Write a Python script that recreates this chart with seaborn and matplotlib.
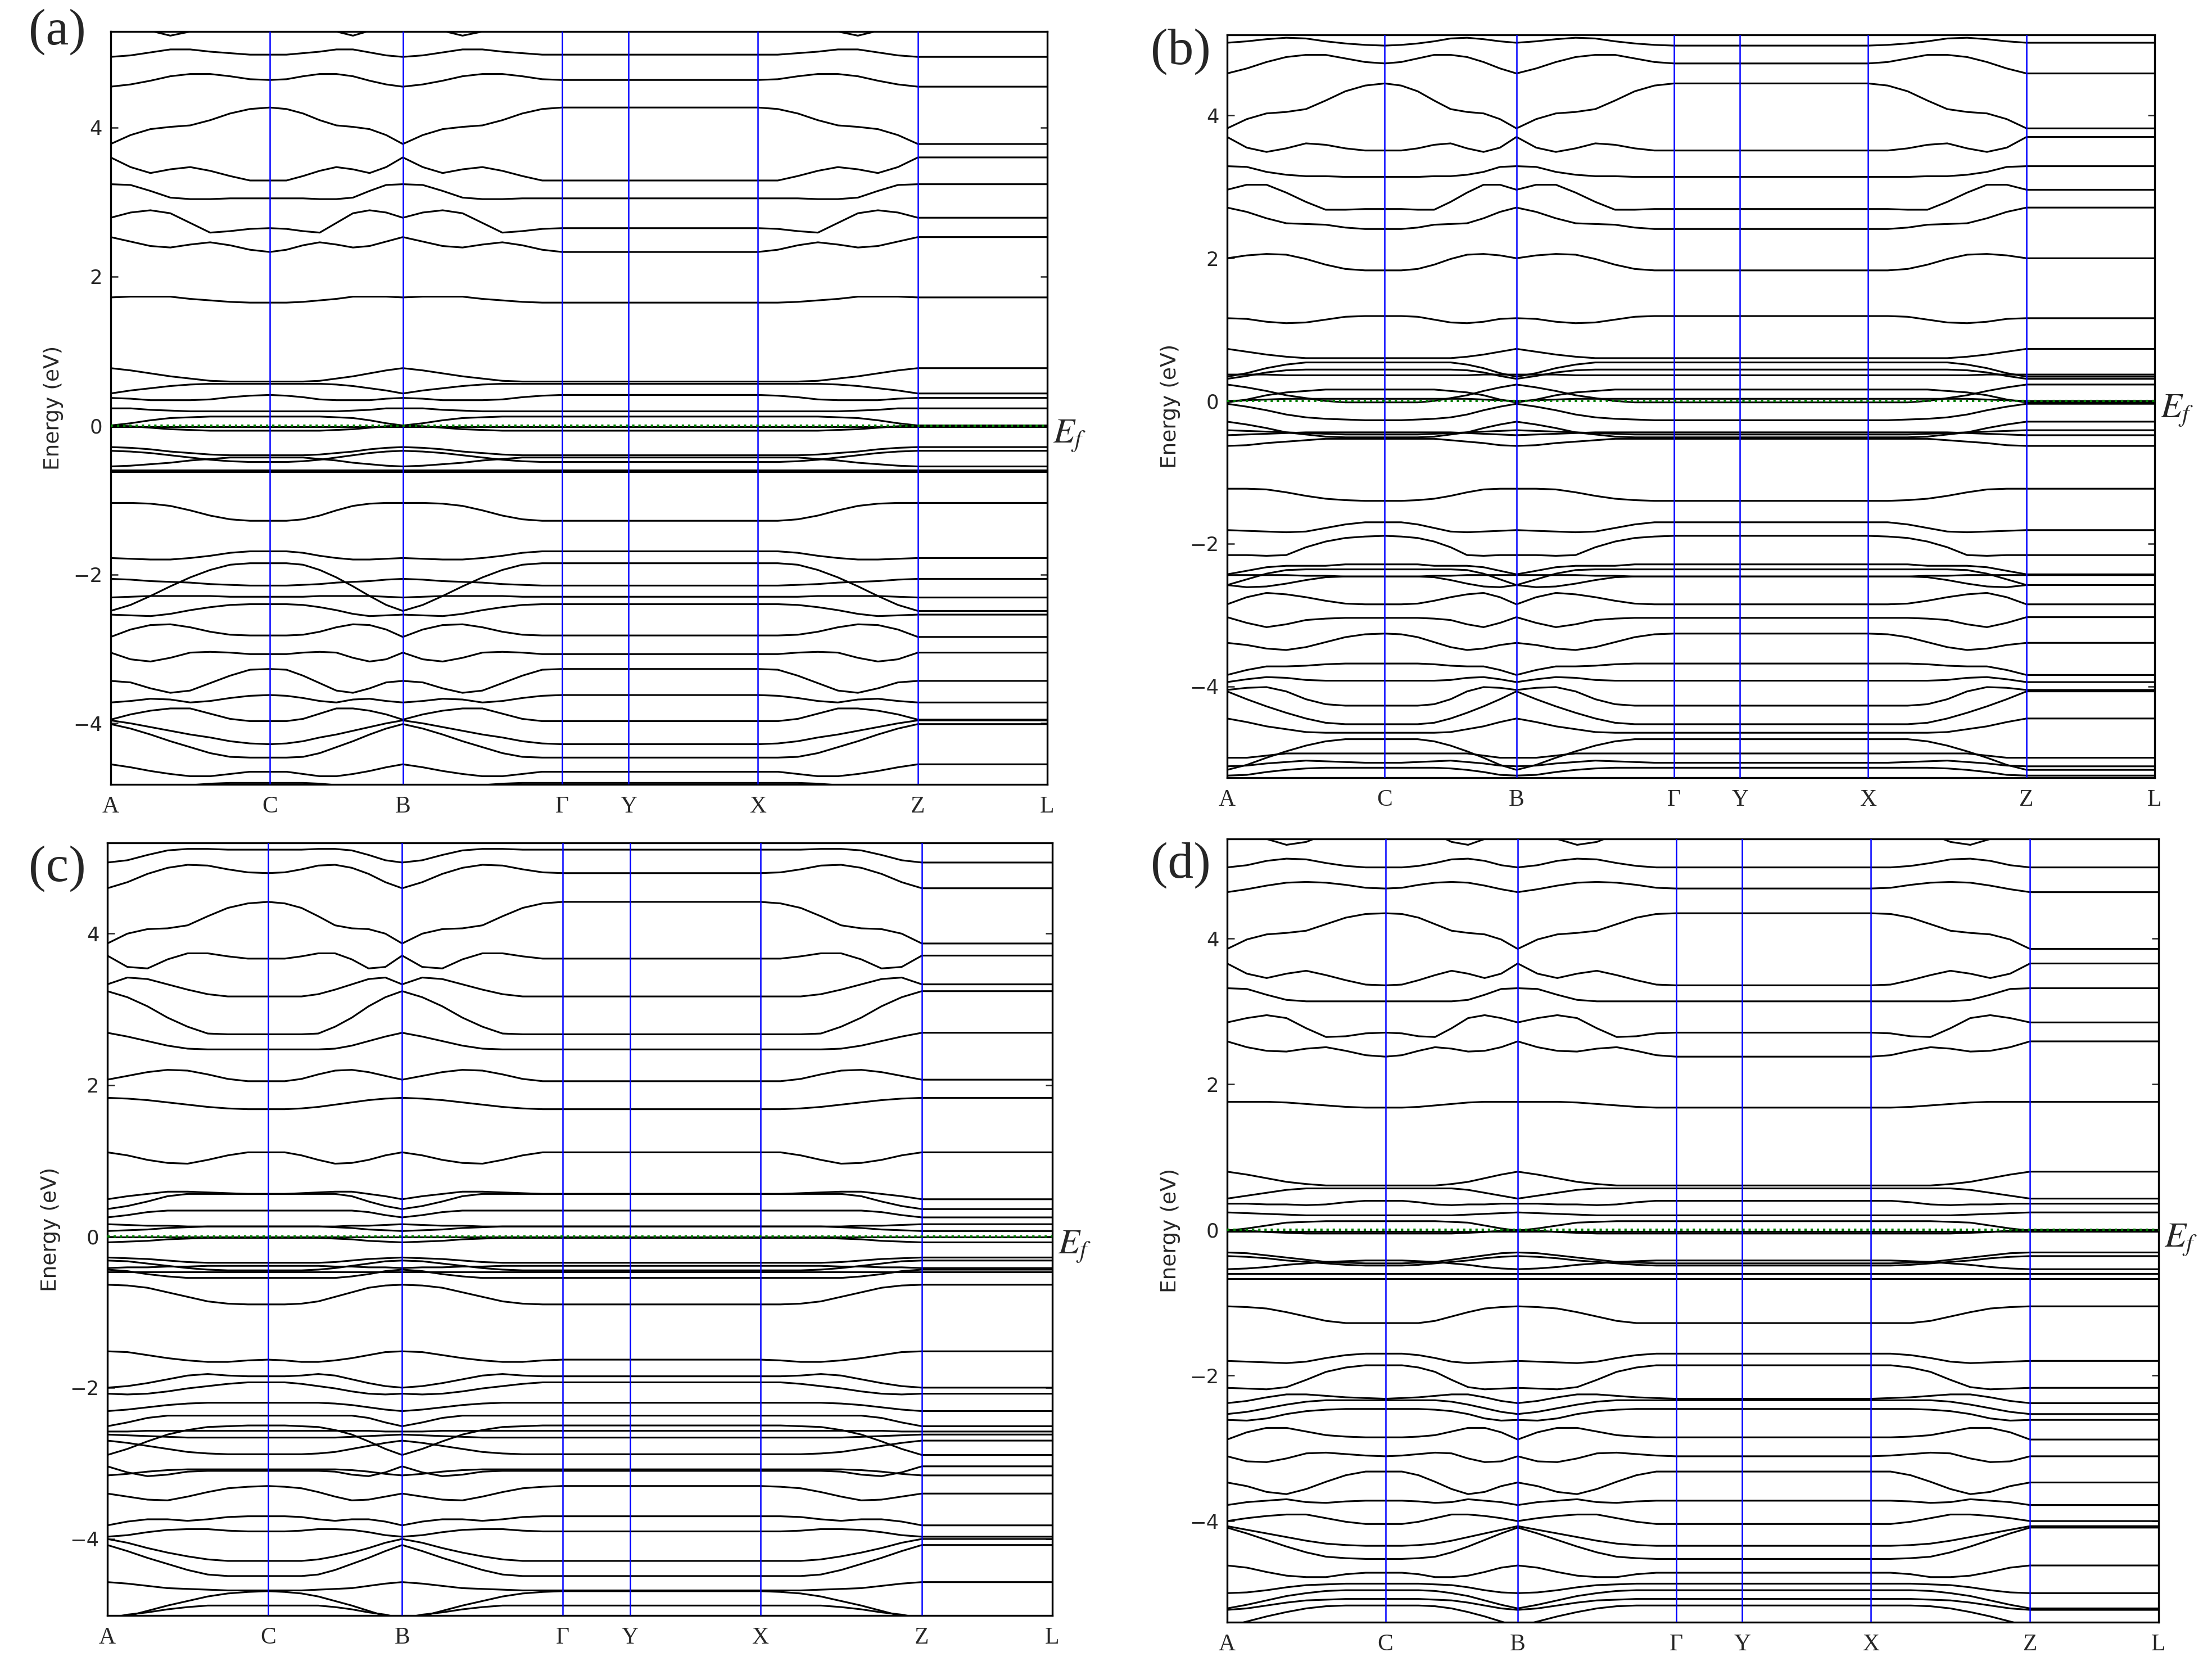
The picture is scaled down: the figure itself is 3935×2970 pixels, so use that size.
import numpy as np
import pandas as pd
import matplotlib.pyplot as plt
import seaborn as sns

# ---------------------------------------------------------------
# k-path (fractional distance along the path) and its labels
# ---------------------------------------------------------------
KLABELS = ['A', 'C', 'B', 'Γ', 'Y', 'X', 'Z', 'L']
KTICKS = [0.0, 0.170, 0.312, 0.482, 0.553, 0.691, 0.862, 1.0]
# branch sample positions: 0 = corner point (A/B/Z), 1 = centre point (C/Γ/X)
TGRID = [0.0, 0.125, 0.25, 0.375, 0.5, 0.625, 0.75, 0.875, 1.0]
YTICKS = [-4, -2, 0, 2, 4]

# band energies (eV) read along one branch, corner -> centre
BANDS_A = [
    [5.50, 5.42, 5.30, 5.235, 5.29, 5.40, 5.48, 5.52, 5.52],
    [4.95, 4.97, 5.01, 5.05, 5.05, 5.02, 5.00, 4.98, 4.98],
    [4.55, 4.58, 4.63, 4.69, 4.72, 4.72, 4.69, 4.65, 4.64],
    [3.78, 3.90, 3.98, 4.01, 4.03, 4.10, 4.19, 4.25, 4.27],
    [3.60, 3.47, 3.39, 3.44, 3.47, 3.42, 3.35, 3.29, 3.29],
    [3.24, 3.23, 3.15, 3.06, 3.04, 3.04, 3.05, 3.05, 3.05],
    [2.79, 2.86, 2.89, 2.85, 2.72, 2.59, 2.61, 2.64, 2.65],
    [2.53, 2.47, 2.41, 2.39, 2.43, 2.46, 2.42, 2.36, 2.33],
    [1.72, 1.73, 1.73, 1.73, 1.70, 1.68, 1.66, 1.65, 1.65],
    [0.77, 0.74, 0.70, 0.66, 0.63, 0.60, 0.59, 0.59, 0.59],
    [0.43, 0.47, 0.50, 0.53, 0.55, 0.56, 0.56, 0.56, 0.56],
    [0.37, 0.36, 0.34, 0.34, 0.34, 0.35, 0.38, 0.40, 0.41],
    [0.23, 0.23, 0.21, 0.20, 0.19, 0.19, 0.19, 0.19, 0.19],
    [0.00, 0.03, 0.07, 0.10, 0.11, 0.12, 0.12, 0.12, 0.12],
    [-0.02, -0.02, -0.02, -0.02, -0.02, -0.02, -0.02, -0.02, -0.02],
    [0.00, -0.01, -0.03, -0.05, -0.06, -0.07, -0.07, -0.07, -0.07],
    [-0.29, -0.30, -0.32, -0.35, -0.37, -0.39, -0.40, -0.40, -0.40],
    [-0.34, -0.35, -0.37, -0.40, -0.43, -0.46, -0.48, -0.49, -0.49],
    [-0.55, -0.54, -0.52, -0.50, -0.47, -0.45, -0.43, -0.43, -0.43],
    [-0.60, -0.60, -0.60, -0.60, -0.60, -0.60, -0.60, -0.60, -0.60],
    [-0.62, -0.62, -0.62, -0.62, -0.62, -0.62, -0.62, -0.62, -0.62],
    [-1.04, -1.04, -1.05, -1.08, -1.14, -1.21, -1.26, -1.28, -1.28],
    [-1.78, -1.79, -1.80, -1.80, -1.78, -1.75, -1.71, -1.69, -1.69],
    [-2.49, -2.41, -2.29, -2.16, -2.04, -1.94, -1.87, -1.85, -1.85],
    [-2.06, -2.07, -2.09, -2.10, -2.11, -2.13, -2.14, -2.15, -2.15],
    [-2.31, -2.30, -2.29, -2.29, -2.29, -2.29, -2.30, -2.30, -2.30],
    [-2.54, -2.55, -2.56, -2.53, -2.48, -2.44, -2.41, -2.40, -2.40],
    [-2.84, -2.74, -2.68, -2.67, -2.71, -2.77, -2.81, -2.82, -2.82],
    [-3.05, -3.14, -3.17, -3.12, -3.05, -3.04, -3.05, -3.07, -3.07],
    [-3.43, -3.45, -3.53, -3.59, -3.56, -3.46, -3.36, -3.28, -3.27],
    [-3.72, -3.70, -3.67, -3.68, -3.72, -3.70, -3.66, -3.63, -3.62],
    [-3.95, -3.88, -3.83, -3.80, -3.80, -3.87, -3.94, -3.97, -3.97],
    [-3.96, -4.00, -4.05, -4.10, -4.15, -4.19, -4.24, -4.27, -4.28],
    [-4.01, -4.07, -4.15, -4.24, -4.32, -4.40, -4.45, -4.46, -4.46],
    [-4.55, -4.59, -4.64, -4.68, -4.71, -4.71, -4.68, -4.65, -4.65],
    [-4.95, -4.93, -4.90, -4.86, -4.83, -4.81, -4.80, -4.80, -4.80],
]

BANDS_B = [
    [5.02, 5.04, 5.07, 5.09, 5.08, 5.04, 5.01, 4.99, 4.98],
    [4.59, 4.66, 4.75, 4.82, 4.85, 4.85, 4.80, 4.75, 4.73],
    [3.82, 3.95, 4.03, 4.05, 4.09, 4.21, 4.34, 4.42, 4.45],
    [3.70, 3.55, 3.49, 3.54, 3.61, 3.59, 3.54, 3.51, 3.51],
    [3.29, 3.28, 3.21, 3.17, 3.15, 3.15, 3.14, 3.14, 3.14],
    [2.96, 3.03, 3.03, 2.92, 2.79, 2.68, 2.68, 2.69, 2.69],
    [2.71, 2.65, 2.56, 2.49, 2.48, 2.47, 2.43, 2.41, 2.41],
    [2.00, 2.04, 2.06, 2.05, 1.99, 1.91, 1.85, 1.83, 1.83],
    [1.16, 1.15, 1.11, 1.09, 1.10, 1.14, 1.18, 1.19, 1.19],
    [0.73, 0.69, 0.65, 0.62, 0.60, 0.60, 0.60, 0.60, 0.60],
    [0.34, 0.39, 0.46, 0.51, 0.54, 0.54, 0.54, 0.54, 0.54],
    [0.31, 0.35, 0.40, 0.43, 0.44, 0.44, 0.44, 0.44, 0.44],
    [0.37, 0.37, 0.37, 0.36, 0.36, 0.36, 0.36, 0.36, 0.36],
    [0.23, 0.19, 0.14, 0.08, 0.04, 0.00, -0.02, -0.02, -0.02],
    [-0.02, 0.02, 0.08, 0.12, 0.14, 0.16, 0.16, 0.16, 0.16],
    [-0.04, -0.08, -0.13, -0.19, -0.23, -0.25, -0.26, -0.27, -0.27],
    [0.00, 0.01, 0.02, 0.03, 0.03, 0.03, 0.03, 0.03, 0.03],
    [-0.29, -0.33, -0.38, -0.44, -0.47, -0.50, -0.51, -0.51, -0.51],
    [-0.63, -0.62, -0.59, -0.57, -0.55, -0.53, -0.53, -0.53, -0.53],
    [-0.41, -0.42, -0.43, -0.44, -0.45, -0.46, -0.47, -0.47, -0.47],
    [-0.48, -0.47, -0.46, -0.45, -0.44, -0.44, -0.44, -0.44, -0.44],
    [-1.23, -1.23, -1.24, -1.28, -1.33, -1.37, -1.39, -1.40, -1.40],
    [-1.81, -1.82, -1.83, -1.84, -1.83, -1.78, -1.73, -1.70, -1.70],
    [-2.16, -2.16, -2.17, -2.16, -2.05, -1.97, -1.92, -1.90, -1.89],
    [-2.43, -2.38, -2.33, -2.31, -2.31, -2.31, -2.29, -2.29, -2.29],
    [-2.58, -2.50, -2.42, -2.37, -2.36, -2.36, -2.36, -2.36, -2.36],
    [-2.44, -2.44, -2.44, -2.44, -2.45, -2.45, -2.46, -2.46, -2.46],
    [-2.58, -2.61, -2.60, -2.56, -2.51, -2.47, -2.46, -2.46, -2.46],
    [-2.85, -2.75, -2.69, -2.71, -2.75, -2.80, -2.84, -2.85, -2.85],
    [-3.03, -3.11, -3.17, -3.13, -3.07, -3.05, -3.04, -3.04, -3.04],
    [-3.39, -3.42, -3.47, -3.49, -3.45, -3.38, -3.31, -3.27, -3.26],
    [-3.84, -3.77, -3.72, -3.72, -3.71, -3.69, -3.68, -3.68, -3.68],
    [-3.94, -3.90, -3.87, -3.88, -3.91, -3.92, -3.92, -3.92, -3.92],
    [-4.05, -4.02, -4.01, -4.07, -4.18, -4.25, -4.27, -4.27, -4.27],
    [-4.07, -4.18, -4.28, -4.37, -4.45, -4.51, -4.53, -4.53, -4.53],
    [-4.45, -4.50, -4.56, -4.60, -4.64, -4.65, -4.65, -4.65, -4.65],
    [-5.17, -5.10, -5.00, -4.91, -4.83, -4.77, -4.74, -4.74, -4.74],
    [-5.00, -5.00, -4.97, -4.94, -4.94, -4.94, -4.94, -4.94, -4.94],
    [-5.12, -5.11, -5.08, -5.06, -5.04, -5.05, -5.06, -5.07, -5.07],
    [-5.25, -5.24, -5.20, -5.17, -5.15, -5.14, -5.14, -5.14, -5.14],
]

BANDS_C = [
    [4.94, 4.97, 5.04, 5.10, 5.12, 5.12, 5.11, 5.11, 5.11],
    [4.60, 4.68, 4.79, 4.87, 4.91, 4.90, 4.85, 4.81, 4.80],
    [3.87, 4.00, 4.06, 4.07, 4.11, 4.23, 4.34, 4.40, 4.42],
    [3.71, 3.56, 3.54, 3.66, 3.74, 3.74, 3.70, 3.67, 3.67],
    [3.33, 3.42, 3.40, 3.33, 3.26, 3.20, 3.17, 3.17, 3.17],
    [3.24, 3.16, 3.04, 2.89, 2.77, 2.68, 2.67, 2.67, 2.67],
    [2.69, 2.64, 2.58, 2.52, 2.48, 2.47, 2.47, 2.47, 2.47],
    [2.07, 2.12, 2.17, 2.20, 2.19, 2.14, 2.08, 2.05, 2.05],
    [1.83, 1.82, 1.80, 1.77, 1.74, 1.71, 1.69, 1.68, 1.68],
    [1.11, 1.07, 1.01, 0.97, 0.96, 1.01, 1.07, 1.11, 1.11],
    [0.49, 0.53, 0.56, 0.59, 0.59, 0.58, 0.57, 0.56, 0.56],
    [0.36, 0.40, 0.46, 0.53, 0.56, 0.56, 0.56, 0.56, 0.56],
    [0.25, 0.28, 0.32, 0.34, 0.34, 0.34, 0.34, 0.34, 0.34],
    [0.16, 0.15, 0.14, 0.14, 0.13, 0.13, 0.13, 0.13, 0.13],
    [0.07, 0.08, 0.09, 0.11, 0.12, 0.13, 0.13, 0.13, 0.13],
    [-0.08, -0.07, -0.06, -0.04, -0.03, -0.02, -0.02, -0.02, -0.02],
    [-0.01, -0.01, -0.01, -0.01, -0.01, -0.01, -0.01, -0.01, -0.01],
    [-0.28, -0.29, -0.30, -0.32, -0.34, -0.35, -0.35, -0.35, -0.35],
    [-0.32, -0.33, -0.36, -0.39, -0.42, -0.44, -0.45, -0.45, -0.45],
    [-0.42, -0.41, -0.41, -0.40, -0.40, -0.39, -0.39, -0.39, -0.39],
    [-0.44, -0.46, -0.50, -0.53, -0.55, -0.55, -0.55, -0.55, -0.55],
    [-0.47, -0.47, -0.47, -0.47, -0.47, -0.47, -0.47, -0.47, -0.47],
    [-0.64, -0.65, -0.68, -0.74, -0.80, -0.86, -0.89, -0.90, -0.90],
    [-1.52, -1.53, -1.57, -1.61, -1.64, -1.66, -1.66, -1.64, -1.63],
    [-2.00, -1.98, -1.94, -1.89, -1.84, -1.82, -1.84, -1.85, -1.85],
    [-2.08, -2.09, -2.08, -2.05, -2.01, -1.98, -1.95, -1.93, -1.93],
    [-2.31, -2.29, -2.26, -2.23, -2.21, -2.20, -2.20, -2.20, -2.20],
    [-2.51, -2.46, -2.40, -2.37, -2.37, -2.37, -2.37, -2.37, -2.37],
    [-2.89, -2.81, -2.71, -2.62, -2.56, -2.52, -2.51, -2.50, -2.50],
    [-2.58, -2.58, -2.57, -2.57, -2.57, -2.57, -2.57, -2.57, -2.57],
    [-2.70, -2.73, -2.77, -2.81, -2.85, -2.87, -2.88, -2.88, -2.88],
    [-2.62, -2.63, -2.64, -2.65, -2.66, -2.66, -2.66, -2.66, -2.66],
    [-3.04, -3.12, -3.17, -3.15, -3.11, -3.10, -3.10, -3.10, -3.10],
    [-3.16, -3.14, -3.11, -3.09, -3.08, -3.08, -3.08, -3.08, -3.08],
    [-3.40, -3.44, -3.48, -3.49, -3.44, -3.38, -3.33, -3.31, -3.30],
    [-3.82, -3.77, -3.74, -3.74, -3.76, -3.74, -3.71, -3.70, -3.70],
    [-3.97, -3.95, -3.91, -3.88, -3.87, -3.87, -3.89, -3.90, -3.90],
    [-4.00, -4.05, -4.12, -4.18, -4.23, -4.27, -4.29, -4.29, -4.29],
    [-4.08, -4.16, -4.25, -4.33, -4.41, -4.47, -4.49, -4.49, -4.49],
    [-4.57, -4.59, -4.62, -4.65, -4.66, -4.67, -4.68, -4.68, -4.68],
    [-5.10, -5.02, -4.95, -4.88, -4.82, -4.76, -4.72, -4.70, -4.69],
    [-5.05, -5.00, -4.97, -4.93, -4.90, -4.88, -4.88, -4.88, -4.88],
]

BANDS_D = [
    [5.55, 5.48, 5.37, 5.29, 5.33, 5.44, 5.52, 5.56, 5.56],
    [4.98, 5.01, 5.07, 5.10, 5.09, 5.04, 5.00, 4.98, 4.98],
    [4.64, 4.68, 4.73, 4.77, 4.78, 4.77, 4.74, 4.70, 4.69],
    [3.86, 3.99, 4.06, 4.08, 4.11, 4.20, 4.29, 4.34, 4.35],
    [3.66, 3.52, 3.46, 3.52, 3.56, 3.50, 3.43, 3.37, 3.36],
    [3.32, 3.31, 3.23, 3.16, 3.14, 3.14, 3.14, 3.14, 3.14],
    [2.85, 2.91, 2.95, 2.91, 2.77, 2.65, 2.66, 2.70, 2.71],
    [2.59, 2.51, 2.46, 2.45, 2.49, 2.51, 2.46, 2.40, 2.38],
    [1.76, 1.76, 1.76, 1.75, 1.73, 1.71, 1.69, 1.68, 1.68],
    [0.80, 0.76, 0.71, 0.66, 0.63, 0.61, 0.61, 0.61, 0.61],
    [0.43, 0.47, 0.51, 0.55, 0.57, 0.57, 0.57, 0.57, 0.57],
    [0.36, 0.36, 0.35, 0.35, 0.34, 0.35, 0.38, 0.40, 0.40],
    [0.24, 0.23, 0.22, 0.21, 0.20, 0.20, 0.20, 0.20, 0.20],
    [-0.01, 0.02, 0.06, 0.10, 0.11, 0.12, 0.12, 0.12, 0.12],
    [0.00, -0.01, -0.03, -0.04, -0.05, -0.05, -0.05, -0.05, -0.05],
    [-0.02, -0.02, -0.02, -0.02, -0.02, -0.02, -0.02, -0.02, -0.02],
    [-0.31, -0.32, -0.35, -0.38, -0.41, -0.44, -0.45, -0.46, -0.46],
    [-0.36, -0.37, -0.39, -0.42, -0.44, -0.46, -0.48, -0.49, -0.49],
    [-0.54, -0.53, -0.51, -0.48, -0.46, -0.44, -0.43, -0.42, -0.42],
    [-0.60, -0.60, -0.60, -0.60, -0.60, -0.60, -0.60, -0.60, -0.60],
    [-0.67, -0.67, -0.67, -0.67, -0.67, -0.67, -0.67, -0.67, -0.67],
    [-1.05, -1.06, -1.08, -1.13, -1.19, -1.25, -1.28, -1.28, -1.28],
    [-1.80, -1.81, -1.82, -1.83, -1.81, -1.76, -1.72, -1.70, -1.70],
    [-2.17, -2.18, -2.19, -2.16, -2.06, -1.95, -1.89, -1.86, -1.86],
    [-2.38, -2.35, -2.30, -2.26, -2.26, -2.28, -2.30, -2.31, -2.32],
    [-2.53, -2.50, -2.45, -2.40, -2.36, -2.34, -2.34, -2.34, -2.34],
    [-2.61, -2.62, -2.59, -2.53, -2.49, -2.47, -2.46, -2.46, -2.46],
    [-2.88, -2.78, -2.72, -2.72, -2.77, -2.82, -2.84, -2.85, -2.85],
    [-3.11, -3.18, -3.19, -3.14, -3.07, -3.06, -3.08, -3.10, -3.11],
    [-3.47, -3.52, -3.60, -3.63, -3.56, -3.46, -3.37, -3.32, -3.32],
    [-3.78, -3.74, -3.72, -3.70, -3.74, -3.75, -3.73, -3.72, -3.72],
    [-4.00, -3.96, -3.93, -3.91, -3.91, -3.96, -4.01, -4.04, -4.04],
    [-4.07, -4.12, -4.17, -4.22, -4.27, -4.31, -4.33, -4.34, -4.34],
    [-4.09, -4.17, -4.26, -4.35, -4.43, -4.49, -4.51, -4.52, -4.52],
    [-4.61, -4.64, -4.70, -4.75, -4.77, -4.77, -4.73, -4.71, -4.71],
    [-4.99, -4.98, -4.95, -4.91, -4.88, -4.87, -4.86, -4.86, -4.86],
    [-5.20, -5.15, -5.09, -5.03, -4.99, -4.96, -4.95, -4.95, -4.95],
    [-5.22, -5.20, -5.16, -5.12, -5.09, -5.08, -5.07, -5.07, -5.07],
    [-5.45, -5.38, -5.31, -5.25, -5.20, -5.17, -5.16, -5.16, -5.16],
]

PANEL_LABELS = ['(a)', '(b)', '(c)', '(d)']
YLIMS = [(-4.82, 5.29), (-5.28, 5.13), (-5.01, 5.20), (-5.39, 5.37)]


def band_path(profile):
    """Lay one branch profile on the path A-C-B-Γ-Y-X-Z-L."""
    k = np.array(KTICKS)
    t = np.array(TGRID)
    p = np.array(profile)
    xs = list(k[0] + t * (k[1] - k[0]))            # A -> C
    ys = list(p)
    xs += list(k[1] + t[1:] * (k[2] - k[1]))       # C -> B
    ys += list(p[::-1][1:])
    xs += list(k[2] + t[1:] * (k[3] - k[2]))       # B -> Γ
    ys += list(p[1:])
    xs += [k[4], k[5]]                             # Γ -> Y -> X
    ys += [p[-1], p[-1]]
    xs += list(k[5] + t[1:] * (k[6] - k[5]))       # X -> Z
    ys += list(p[::-1][1:])
    xs += [k[7]]                                   # Z -> L
    ys += [p[0]]
    return xs, ys


def bands_frame(bands):
    rows = []
    for i, prof in enumerate(bands):
        xs, ys = band_path(prof)
        rows += [{'band': i, 'k': x, 'E': y} for x, y in zip(xs, ys)]
    return pd.DataFrame(rows)


sns.set_style('ticks')
plt.rcParams['font.family'] = ['DejaVu Sans']
plt.rcParams['mathtext.fontset'] = 'stix'

fig = plt.figure(figsize=(13.12, 9.9), dpi=300)

rects = [
    [0.0500, 0.5303, 0.4233, 0.4508],
    [0.5546, 0.5343, 0.4192, 0.4448],
    [0.0485, 0.0327, 0.4271, 0.4626],
    [0.5546, 0.0286, 0.4210, 0.4690],
]
label_pos = [(0.013, 0.981), (0.520, 0.969), (0.013, 0.480), (0.520, 0.482)]

for bands, ylim, rect, lab, lpos in zip(
        [BANDS_A, BANDS_B, BANDS_C, BANDS_D], YLIMS, rects, PANEL_LABELS, label_pos):
    ax = fig.add_axes(rect)
    df = bands_frame(bands)
    sns.lineplot(data=df, x='k', y='E', units='band', estimator=None, sort=False,
                 color='black', linewidth=0.75, ax=ax, legend=False)

    for kx in KTICKS[1:-1]:
        ax.axvline(kx, color='#0000ff', lw=0.6, zorder=3)
    ax.axhline(0, color='#008000', ls=':', lw=1.0, zorder=4)

    ax.set_xlim(KTICKS[0], KTICKS[-1])
    ax.set_ylim(*ylim)
    ax.set_xticks(KTICKS)
    ax.set_xticklabels(KLABELS, family='Liberation Serif', fontsize=10)
    ax.set_yticks(YTICKS)
    ax.tick_params(axis='y', direction='in', right=True, length=3, width=0.6, labelsize=8.5)
    ax.tick_params(axis='x', direction='in', length=0, pad=5)
    ax.set_xlabel('')
    ax.set_ylabel('Energy (eV)', fontsize=9)
    for sp in ax.spines.values():
        sp.set_linewidth(0.8)
        sp.set_color('black')

    ax.text(1.006, -0.14, '$E_f$', transform=ax.get_yaxis_transform(),
            fontsize=15, ha='left', va='center')
    fig.text(lpos[0], lpos[1], lab, family='Liberation Serif', fontsize=22,
             ha='left', va='center')

fig.savefig('out.png', dpi=300)
